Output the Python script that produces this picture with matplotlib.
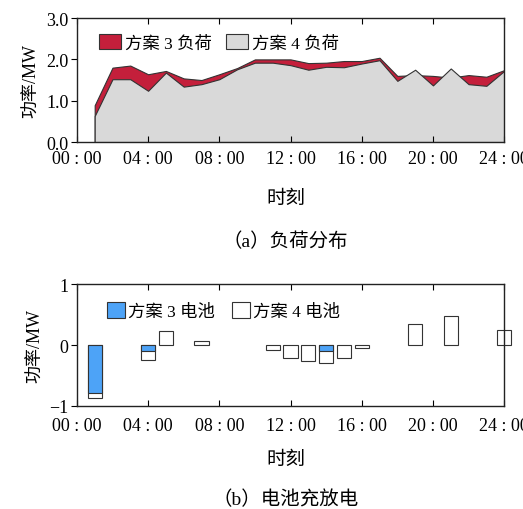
import matplotlib.pyplot as plt
from matplotlib.patches import Patch

plt.rcParams['font.family'] = ['Liberation Serif', 'Noto Sans CJK SC']
plt.rcParams['font.size'] = 13
plt.rcParams['axes.unicode_minus'] = True

hours = list(range(1, 25))
load3 = [0.89, 1.80, 1.85, 1.64, 1.72, 1.54, 1.50, 1.64, 1.79, 2.00, 2.00, 2.00,
         1.91, 1.92, 1.96, 1.96, 2.04, 1.60, 1.62, 1.60, 1.56, 1.62, 1.58, 1.74]
load4 = [0.63, 1.52, 1.52, 1.24, 1.68, 1.34, 1.40, 1.52, 1.76, 1.92, 1.92, 1.86,
         1.75, 1.82, 1.81, 1.90, 1.98, 1.48, 1.75, 1.37, 1.78, 1.40, 1.36, 1.72]

bat_hours = [1, 4, 5, 7, 11, 12, 13, 14, 15, 16, 19, 21, 24]
bat4 = [-0.87, -0.24, 0.23, 0.065, -0.076, -0.21, -0.27, -0.30, -0.21, -0.05, 0.34, 0.47, 0.25]
bat3_hours = [1, 4, 14]
bat3 = [-0.79, -0.10, -0.09]

xticks = [0, 4, 8, 12, 16, 20, 24]
xlabels = ['00 : 00', '04 : 00', '08 : 00', '12 : 00', '16 : 00', '20 : 00', '24 : 00']

red = '#c41f3b'
gray = '#d9d9d9'
blue = '#4da3f7'
edge = '#333333'

fig = plt.figure(figsize=(5.23, 5.10), dpi=100)
ax1 = fig.add_axes([0.147, 0.7196, 0.817, 0.243])
ax2 = fig.add_axes([0.147, 0.202, 0.817, 0.239])

# (a) load
ax1.fill_between(hours, 0, load3, facecolor=red, edgecolor=edge, linewidth=0.8)
ax1.fill_between(hours, 0, load4, facecolor=gray, edgecolor=edge, linewidth=0.8)
ax1.set_xlim(0, 24)
ax1.set_ylim(0, 3)
ax1.set_yticks([0, 1, 2, 3])
ax1.set_yticklabels(['0.0', '1.0', '2.0', '3.0'])
ax1.set_ylabel('功率/MW', labelpad=4)
h1 = [Patch(facecolor=red, edgecolor=edge, linewidth=0.8),
      Patch(facecolor=gray, edgecolor=edge, linewidth=0.8)]
ax1.legend(h1, ['方案 3 负荷', '方案 4 负荷'], loc='upper left', ncol=2, frameon=False,
           handlelength=1.3, handleheight=1.0, handletextpad=0.2, columnspacing=0.8,
           borderaxespad=0.0, fontsize=12.5, bbox_to_anchor=(0.035, 0.93))

# (b) battery
ax2.bar(bat_hours, bat4, width=0.8, facecolor='white', edgecolor=edge, linewidth=0.8,
        clip_on=False)
ax2.bar(bat3_hours, bat3, width=0.8, facecolor=blue, edgecolor=edge, linewidth=0.8,
        clip_on=False)
ax2.set_xlim(0, 24)
ax2.set_ylim(-1, 1)
ax2.set_yticks([-1, 0, 1])
ax2.set_ylabel('功率/MW', labelpad=4)
h2 = [Patch(facecolor=blue, edgecolor=edge, linewidth=0.8),
      Patch(facecolor='white', edgecolor=edge, linewidth=0.8)]
ax2.legend(h2, ['方案 3 电池', '方案 4 电池'], loc='upper left', ncol=2, frameon=False,
           handlelength=1.0, handleheight=1.0, handletextpad=0.2, columnspacing=1.0,
           borderaxespad=0.0, fontsize=12.5, bbox_to_anchor=(0.055, 0.91))

for ax in (ax1, ax2):
    ax.set_xticks(xticks)
    ax.set_xticklabels(xlabels)
    ax.tick_params(axis='x', direction='in', top=True, length=4, pad=6)
    ax.tick_params(axis='y', direction='out', length=4, pad=2)
    for s in ax.spines.values():
        s.set_linewidth(1.0)
        s.set_color('#222222')
ax2.tick_params(axis='x', pad=8)

fig.text(0.546, 1 - 199 / 510, '时刻', ha='center', va='center', fontsize=14)
fig.text(0.546, 1 - 242 / 510, '（a）负荷分布', ha='center', va='center', fontsize=14)
fig.text(0.546, 1 - 460 / 510, '时刻', ha='center', va='center', fontsize=14)
fig.text(0.546, 1 - 500 / 510, '（b）电池充放电', ha='center', va='center', fontsize=14)

fig.savefig('out.png', dpi=100)
